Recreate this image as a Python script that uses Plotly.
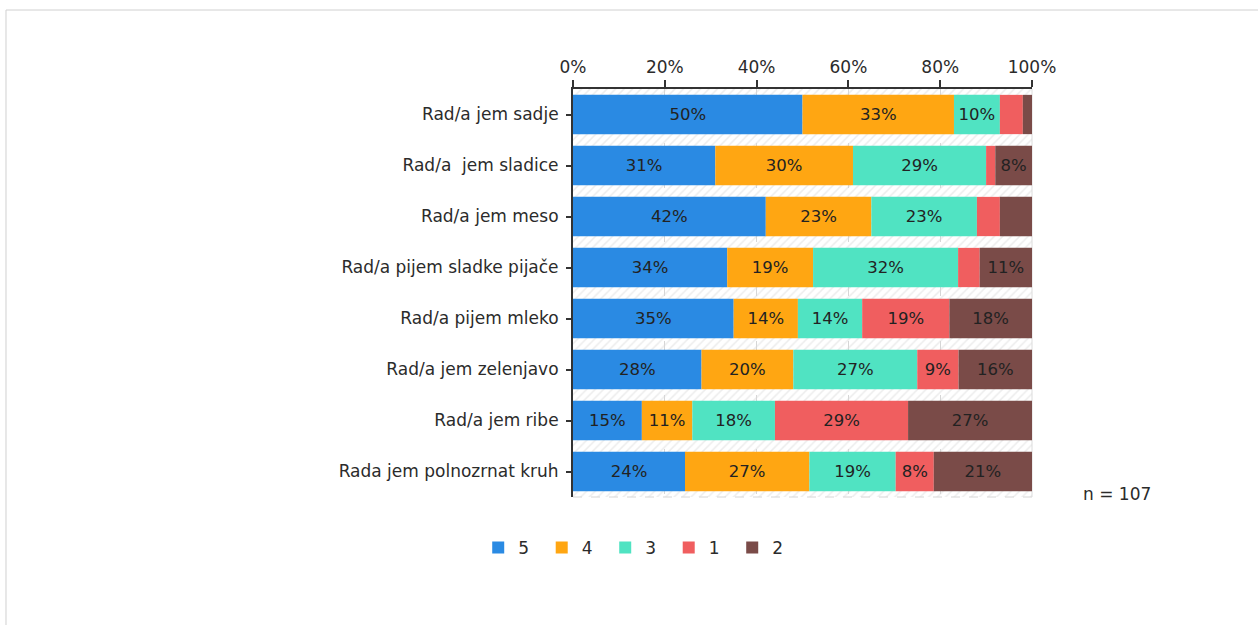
import plotly.graph_objects as go

# Survey statements (top to bottom)
categories = [
    "Rad/a jem sadje",
    "Rad/a  jem sladice",
    "Rad/a jem meso",
    "Rad/a pijem sladke pijače",
    "Rad/a pijem mleko",
    "Rad/a jem zelenjavo",
    "Rad/a jem ribe",
    "Rada jem polnozrnat kruh",
]

# Share of answers per grade, in percent
grade_names = ["5", "4", "3", "1", "2"]
grade_5 = [50, 31, 42, 33.6, 35, 28, 15, 24.4]
grade_4 = [33, 30, 23, 18.7, 14, 20, 11, 27.1]
grade_3 = [10, 29, 23, 31.6, 14, 27, 18, 18.8]
grade_1 = [5, 2, 5, 4.7, 19, 9, 29, 8.3]
grade_2 = [2, 8, 7, 11.4, 18, 16, 27, 21.4]

tick_values = [0, 20, 40, 60, 80, 100]
tick_labels = [f"{v}%" for v in tick_values]
sample_note = "n = 107"

series = [grade_5, grade_4, grade_3, grade_1, grade_2]
colors = ["#2a8ae3", "#ffa612", "#50e3c2", "#f05e5f", "#7a4b48"]

FONT = "DejaVu Sans"
TEXT_COLOR = "#2b2b2b"

fig = go.Figure()

# Hatched band behind every row
fig.add_trace(go.Bar(
    x=[100] * len(categories),
    y=categories,
    orientation="h",
    width=1,
    marker=dict(
        color="rgba(0,0,0,0)",
        line=dict(width=0),
        pattern=dict(shape="/", fgcolor="#d9d9d9", bgcolor="rgba(0,0,0,0)",
                     size=6, solidity=0.25),
    ),
    showlegend=False,
    hoverinfo="skip",
))

# Stacked segments, each starting where the previous one ends
base = [0.0] * len(categories)
for name, vals, col in zip(grade_names, series, colors):
    labels = [f"{v:.0f}%" if v >= 7.5 else "" for v in vals]
    fig.add_trace(go.Bar(
        x=vals,
        y=categories,
        base=list(base),
        orientation="h",
        name=name,
        width=0.77,
        marker=dict(color=col, line=dict(width=0)),
        text=labels,
        textposition="inside",
        insidetextanchor="middle",
        textangle=0,
        insidetextfont=dict(family=FONT, size=16.5, color="#222222"),
        hovertemplate="%{y}: %{x}%<extra>" + name + "</extra>",
    ))
    base = [b + v for b, v in zip(base, vals)]

fig.update_layout(
    width=1258,
    height=625,
    margin=dict(l=573, r=226, t=89, b=128, pad=0),
    paper_bgcolor="white",
    plot_bgcolor="white",
    barmode="overlay",
    font=dict(family=FONT, size=17, color=TEXT_COLOR),
    xaxis=dict(
        side="top",
        range=[0, 100],
        tickmode="array",
        tickvals=tick_values,
        ticktext=tick_labels,
        ticks="outside",
        ticklen=7,
        tickwidth=1.5,
        tickcolor="#333333",
        showline=True,
        linecolor="#333333",
        linewidth=2,
        showgrid=True,
        gridcolor="#d6d6d6",
        griddash="dash",
        gridwidth=1,
        zeroline=False,
        fixedrange=True,
    ),
    yaxis=dict(
        categoryorder="array",
        categoryarray=categories,
        autorange="reversed",
        ticks="outside",
        ticklen=5,
        tickwidth=1.5,
        tickcolor="#333333",
        showline=True,
        linecolor="#333333",
        linewidth=2,
        showgrid=False,
        zeroline=False,
        ticklabelstandoff=4,
        fixedrange=True,
    ),
    legend=dict(
        orientation="h",
        x=-0.2065,
        xanchor="left",
        y=-0.125,
        yanchor="middle",
        entrywidth=18.5,
        entrywidthmode="pixels",
        font=dict(family=FONT, size=17, color=TEXT_COLOR),
        itemclick=False,
        itemdoubleclick=False,
    ),
    showlegend=True,
    annotations=[dict(
        text=sample_note,
        xref="paper", yref="paper",
        x=1.107, y=0.007,
        xanchor="left", yanchor="middle",
        showarrow=False,
        font=dict(family=FONT, size=17, color=TEXT_COLOR),
    )],
    shapes=[
        # dashed lower edge of the plotting area
        dict(type="line", xref="paper", yref="paper", x0=0, x1=1, y0=0, y1=0,
             line=dict(color="#d6d6d6", width=1, dash="dash"), layer="below"),
        # light right edge of the plotting area
        dict(type="line", xref="paper", yref="paper", x0=1, x1=1, y0=0, y1=1,
             line=dict(color="#dcdcdc", width=1), layer="below"),
        # light outer frame
        dict(type="rect", xref="paper", yref="paper",
             x0=-1.2353, x1=1.52, y0=-0.35, y1=1.1936,
             line=dict(color="#d0d0d0", width=1), fillcolor="rgba(0,0,0,0)"),
    ],
)

fig.write_html("out.html")
